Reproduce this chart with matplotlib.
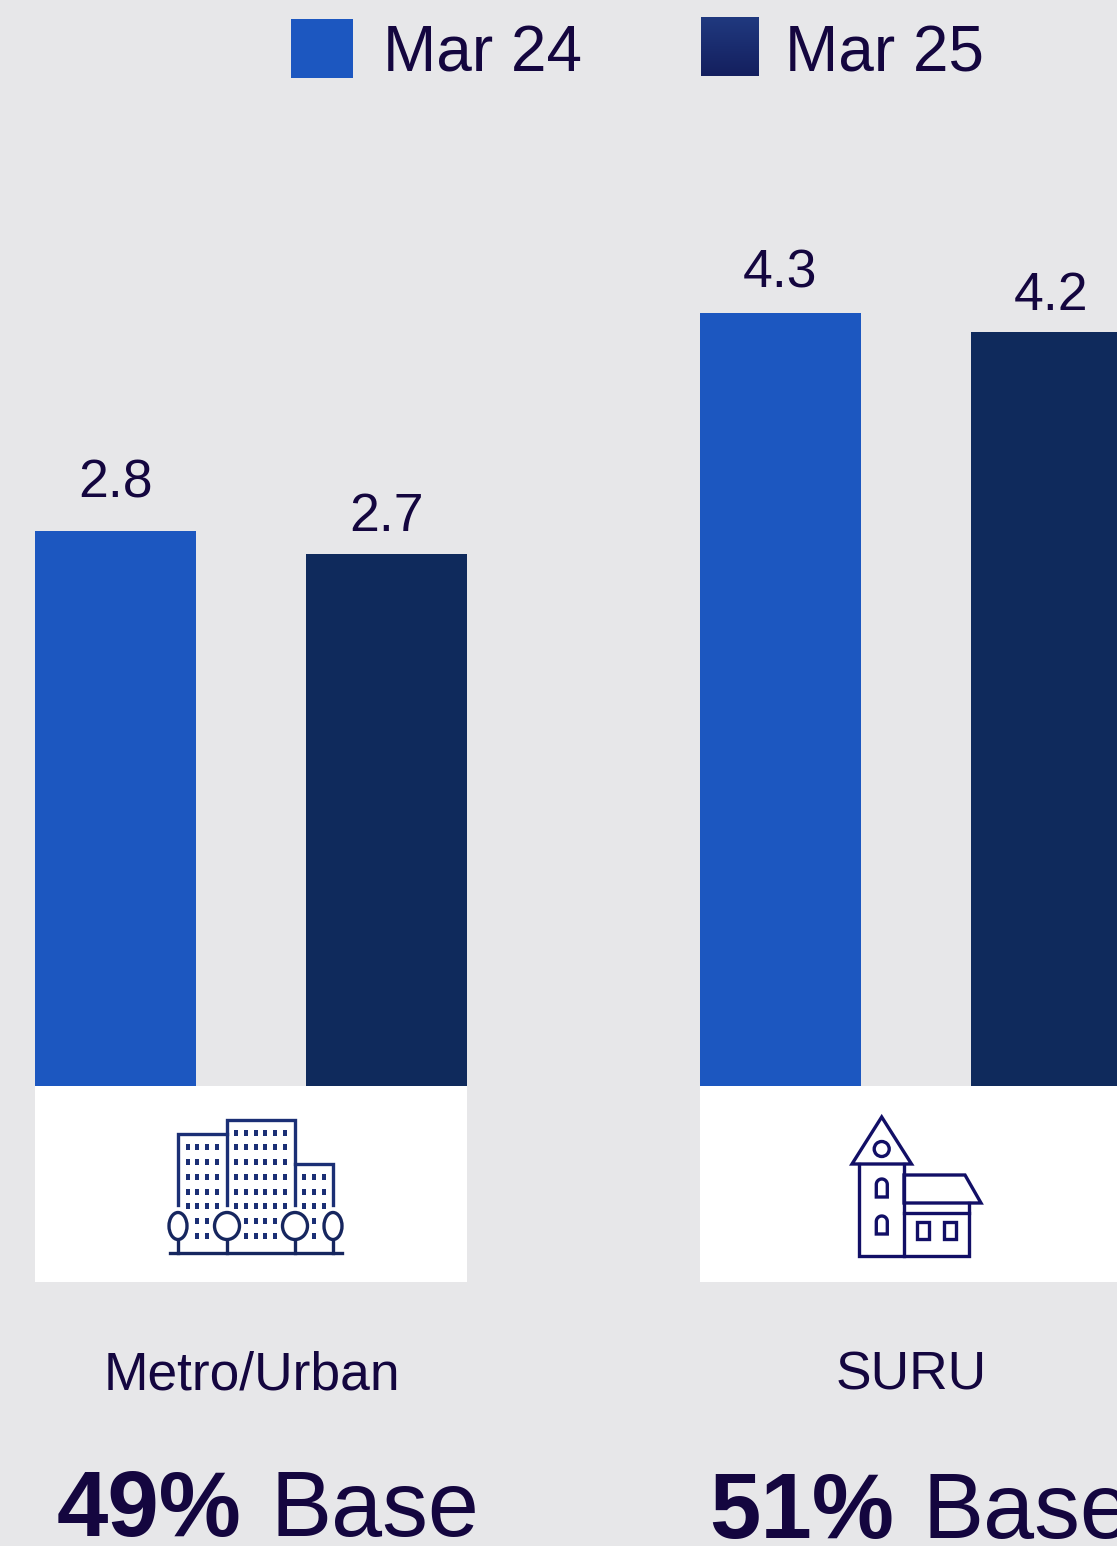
import numpy as np
import matplotlib
matplotlib.use("Agg")
import matplotlib.pyplot as plt
from matplotlib.colors import LinearSegmentedColormap
from matplotlib.patches import Rectangle, Ellipse, Circle, Polygon

W, H = 1117, 1546
BG = "#e7e7e9"
BLUE = "#1c57c0"
NAVY = "#0f2a5c"
INK = "#14063f"
CITY = "#1b2f75"
HOUSE = "#120f66"

periods = ["Mar 24", "Mar 25"]
metro_values = [2.8, 2.7]
suru_values = [4.3, 4.2]
segments = ["Metro/Urban", "SURU"]
shares = ["49%", "51%"]

plt.rcParams["font.family"] = ["Liberation Sans", "DejaVu Sans"]

fig = plt.figure(figsize=(W / 100, H / 100), dpi=100, facecolor=BG)

# one layer in pixel coordinates for the panels, icons and captions
pg = fig.add_axes([0, 0, 1, 1])
pg.set_xlim(0, W)
pg.set_ylim(H, 0)
pg.axis("off")


def bar_panel(left, values, y_floor, y_ceil, gaps):
    # two bars on their own hidden axis, sitting on the white panel
    ax = fig.add_axes([left / W, 1 - 1086 / H, 432 / W, 786 / H])
    ax.patch.set_alpha(0)
    ax.axis("off")
    ax.set_xlim(0, 432)
    ax.set_ylim(y_floor, y_ceil)
    for pos, v, col, gap in zip([80.5, 351.5], values, [BLUE, NAVY], gaps):
        ax.bar(pos, v, width=161, color=col)
        ax.annotate(f"{v}", (pos, v), xytext=(0, gap), textcoords="offset pixels",
                    ha="center", va="baseline", fontsize=38.5, color=INK)
    return ax


bar_panel(35, metro_values, 0.387, 3.805, [34, 23])
bar_panel(700, suru_values, 0.23, 4.37, [26, 22])

# legend
pg.add_patch(Rectangle((291, 19), 62, 59, fc=BLUE, ec="none"))
grad = LinearSegmentedColormap.from_list("swatch", ["#20397f", "#141f5e"])
pg.imshow(np.linspace(0, 1, 64).reshape(-1, 1), cmap=grad, aspect="auto",
          extent=(701, 759, 76, 17), zorder=2)
pg.set_xlim(0, W)
pg.set_ylim(H, 0)
pg.text(383, 71, periods[0], fontsize=46, color=INK, va="baseline")
pg.text(785, 71, periods[1], fontsize=46, color=INK, va="baseline")

# white panels under the bars
for x0 in [35, 700]:
    pg.add_patch(Rectangle((x0, 1086), 432, 196, fc="white", ec="none"))

# captions
pg.text(251.5, 1389, segments[0], fontsize=38.4, color=INK, ha="center", va="baseline")
pg.text(911, 1389, segments[1], fontsize=38.4, color=INK, ha="center", va="baseline")
pg.text(57, 1536, shares[0], fontsize=66.5, fontweight="bold", color=INK, va="baseline")
pg.text(271, 1536, "Base", fontsize=66, color=INK, va="baseline")
pg.text(709, 1538, shares[1], fontsize=66.5, fontweight="bold", color=INK, va="baseline")
pg.text(922, 1538, "Base", fontsize=66, color=INK, va="baseline")

# city icon
lw = 2.4
pg.plot([178, 178, 227], [1205, 1134, 1134], color=CITY, lw=lw, solid_joinstyle="miter")
pg.plot([227, 227, 295, 295], [1205, 1120, 1120, 1205], color=CITY, lw=lw, solid_joinstyle="miter")
pg.plot([295, 333, 333], [1164, 1164, 1205], color=CITY, lw=lw, solid_joinstyle="miter")

left_cols = [188, 197, 207, 217]
mid_cols = [236, 246, 256, 265, 275, 285]
right_cols = [304, 314, 324]
rows = [1133, 1147, 1162, 1177, 1192, 1206, 1221, 1236]
dots = []
for r in rows[1:6]:
    dots += [(c, r) for c in left_cols]
for r in rows[6:]:
    dots += [(c, r) for c in left_cols[1:3]]
for r in rows[:6]:
    dots += [(c, r) for c in mid_cols]
for r in rows[6:]:
    dots += [(c, r) for c in mid_cols[1:5]]
for r in rows[3:6]:
    dots += [(c, r) for c in right_cols]
for r in rows[6:]:
    dots.append((right_cols[1], r))
for cx, cy in dots:
    pg.add_patch(Rectangle((cx - 1.6, cy - 3.2), 3.2, 6.4, fc=CITY, ec="none"))

for tx, tw in [(178, 18), (227, 25), (295, 25), (333, 18)]:
    pg.add_patch(Ellipse((tx, 1226), tw, 27, fc="white", ec="#16265f", lw=lw, zorder=3))
    pg.plot([tx, tx], [1239.5, 1253], color="#16265f", lw=lw)
pg.plot([170, 342], [1253, 1253], color="#16265f", lw=lw)

# village icon
pg.add_patch(Polygon([(881.7, 1117), (852, 1164), (911.5, 1164)], closed=True, fc="none", ec=HOUSE, lw=lw))
pg.add_patch(Circle((881.7, 1149), 7.5, fc="none", ec=HOUSE, lw=lw))
pg.plot([859, 859, 904, 904], [1164, 1255.5, 1255.5, 1164], color=HOUSE, lw=lw, solid_joinstyle="miter")
pg.plot([904, 968.5, 968.5], [1255.5, 1255.5, 1203], color=HOUSE, lw=lw, solid_joinstyle="miter")
pg.add_patch(Polygon([(904, 1175), (965, 1175), (981, 1203), (904, 1203)], closed=True, fc="none", ec=HOUSE, lw=lw))
pg.plot([904, 968.5], [1213, 1213], color=HOUSE, lw=lw)
for y0 in [1179, 1216]:
    # arched tower windows
    arc_t = np.linspace(0, np.pi, 24)
    arc_x = 881.8 + 5.5 * np.cos(arc_t)
    arc_y = y0 + 5.5 - 5.5 * np.sin(arc_t)
    outline = np.column_stack([np.r_[arc_x, 876.3, 887.3], np.r_[arc_y, y0 + 18, y0 + 18]])
    pg.add_patch(Polygon(outline, closed=True, fc="none", ec=HOUSE, lw=lw))
for x0 in [917, 944]:
    pg.add_patch(Rectangle((x0, 1222), 12, 17, fc="none", ec=HOUSE, lw=lw))

fig.savefig("out.png", dpi=100, facecolor=BG)
